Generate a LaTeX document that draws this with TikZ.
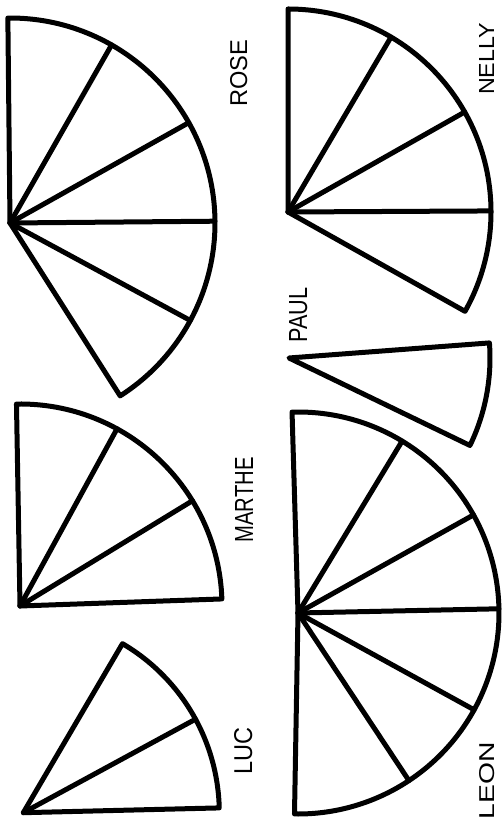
\documentclass[tikz,border=0pt]{standalone}
\usepackage{fontspec}
\setmainfont{Liberation Sans}
\usepackage{graphicx}
\begin{document}
\begin{tikzpicture}[x=1bp,y=1bp,
  sector/.style={line width=5bp, line join=round, line cap=round},
  lbl/.style={rotate=90, anchor=base, inner sep=0pt}]
\useasboundingbox[fill=white] (0,0) rectangle (502,832);

% ROSE
\coordinate (roseC) at (10,609);
\foreach \n/\a in {1/90.6,2/60.3,3/29.3,4/0.5,5/-28.4,6/-57.5}
  \path (roseC) ++(\a:205bp) coordinate (rose\n);
\draw[sector] (roseC) -- (rose1) arc[start angle=90.6,end angle=-57.5,radius=205bp] -- cycle;
\foreach \n in {2,...,5} \draw[sector] (roseC) -- (rose\n);

% NELLY
\coordinate (nellyC) at (288,620);
\foreach \n/\a in {1/90,2/59.5,3/29.5,4/0.3,5/-29.3}
  \path (nellyC) ++(\a:203bp) coordinate (nelly\n);
\draw[sector] (nellyC) -- (nelly1) arc[start angle=90,end angle=-29.3,radius=203bp] -- cycle;
\foreach \n in {2,...,4} \draw[sector] (nellyC) -- (nelly\n);

% PAUL
\coordinate (paulC) at (289,474);
\foreach \n/\a in {1/4.3,2/-25.8}
  \path (paulC) ++(\a:201bp) coordinate (paul\n);
\draw[sector] (paulC) -- (paul1) arc[start angle=4.3,end angle=-25.8,radius=201bp] -- cycle;

% LEON
\coordinate (leonC) at (298,219);
\foreach \n/\a in {1/91.7,2/58.8,3/29.2,4/1.2,5/-28.8,6/-56.5,7/-91}
  \path (leonC) ++(\a:201bp) coordinate (leon\n);
\draw[sector] (leonC) -- (leon1) arc[start angle=91.7,end angle=-91,radius=201bp] -- cycle;
\foreach \n in {2,...,6} \draw[sector] (leonC) -- (leon\n);

% MARTHE
\coordinate (martheC) at (20,226);
\foreach \n/\a in {1/91,2/61.3,3/31.4,4/2}
  \path (martheC) ++(\a:202bp) coordinate (marthe\n);
\draw[sector] (martheC) -- (marthe1) arc[start angle=91,end angle=2,radius=202bp] -- cycle;
\foreach \n in {2,3} \draw[sector] (martheC) -- (marthe\n);

% LUC
\coordinate (lucC) at (23.3,19.3);
\foreach \n/\a in {1/59.6,2/28.5,3/1.4}
  \path (lucC) ++(\a:196bp) coordinate (luc\n);
\draw[sector] (lucC) -- (luc1) arc[start angle=59.6,end angle=1.4,radius=196bp] -- cycle;
\draw[sector] (lucC) -- (luc2);

% labels
\node[lbl] (lrose)   at (247,758.5) {\resizebox{67bp}{17bp}{ROSE}};
\node[lbl] (lnelly)  at (494,773)   {\resizebox{72bp}{15bp}{NELLY}};
\node[lbl] (lpaul)   at (307,517)   {\resizebox{55bp}{18bp}{PAUL}};
\node[lbl] (lmarthe) at (253,332)   {\resizebox{85bp}{18bp}{MARTHE}};
\node[lbl] (lluc)    at (252,81)    {\resizebox{47bp}{18bp}{LUC}};
\node[lbl] (lleon)   at (494,51)    {\resizebox{77bp}{15bp}{LEON}};
\end{tikzpicture}
\end{document}
